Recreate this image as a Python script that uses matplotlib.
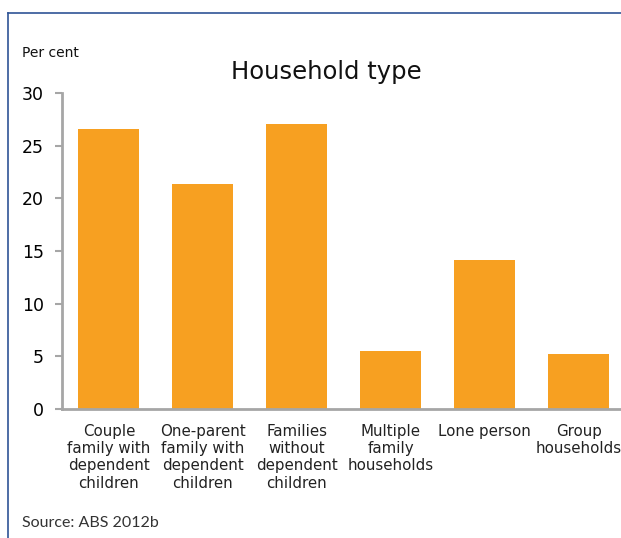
import matplotlib.pyplot as plt
from matplotlib.lines import Line2D

categories = ['Couple\nfamily with\ndependent\nchildren',
              'One-parent\nfamily with\ndependent\nchildren',
              'Families\nwithout\ndependent\nchildren',
              'Multiple\nfamily\nhouseholds',
              'Lone person',
              'Group\nhouseholds']
values = [26.6, 21.4, 27.1, 5.5, 14.1, 5.2]
yticks = [0, 5, 10, 15, 20, 25, 30]

plt.rcParams['font.family'] = ['DejaVu Sans']

fig = plt.figure(figsize=(6.21, 5.38), dpi=100)
ax = fig.add_axes([0.0998, 0.2398, 0.9002, 0.5873])

ax.bar(range(len(values)), values, width=0.65, color='#F7A021')
ax.set_xlim(-0.5, 5.45)
ax.set_ylim(0, 30)
ax.set_yticks(yticks)
ax.set_xticks(range(len(categories)))
ax.set_xticklabels(categories, fontsize=10.8, color='#222222', linespacing=1.2)
ax.tick_params(axis='x', length=0, pad=10.5)
ax.tick_params(axis='y', length=5, width=1.5, color='#A6A6A6', labelsize=12.5, pad=8)

for s in ['top', 'right']:
    ax.spines[s].set_visible(False)
for s in ['left', 'bottom']:
    ax.spines[s].set_color('#A6A6A6')
    ax.spines[s].set_linewidth(2)

fig.text(0.525, 0.866, 'Household type', ha='center', va='center', fontsize=17.5, color='#111111')
fig.text(0.035, 0.901, 'Per cent', ha='left', va='center', fontsize=10, color='#111111')
fig.text(0.035, 0.028, 'Source: ABS 2012b', ha='left', va='center', fontsize=11.5,
         color='#333333', family=['Lato', 'DejaVu Sans'])

# blue frame on top and left
fig.add_artist(Line2D([0.013, 1.0], [0.976, 0.976], color='#2F5496', lw=1.2, transform=fig.transFigure))
fig.add_artist(Line2D([0.013, 0.013], [0.0, 0.976], color='#2F5496', lw=1.2, transform=fig.transFigure))

fig.savefig('out.png', dpi=100)
